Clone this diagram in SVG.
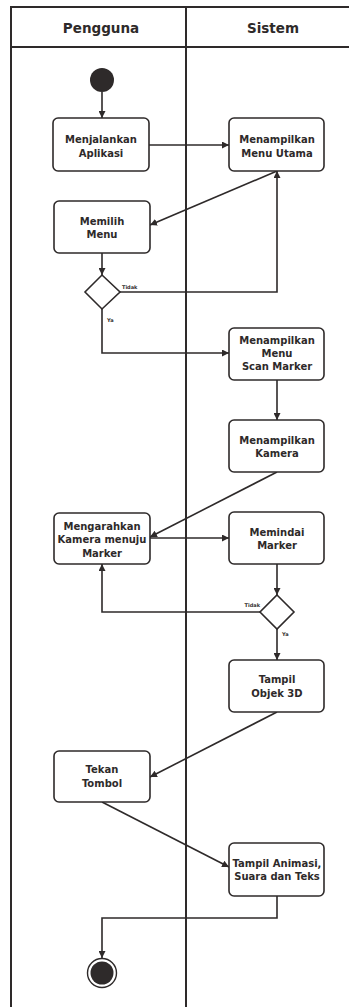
<svg xmlns="http://www.w3.org/2000/svg" width="349" height="1007" viewBox="0 0 349 1007">
<style>
.frame{stroke:#2e2a2a;stroke-width:2;fill:none}
.box{fill:#ffffff;stroke:#2e2a2a;stroke-width:1.6}
.dec{fill:#ffffff;stroke:#2e2a2a;stroke-width:1.6}
.t{font-family:"DejaVu Sans",sans-serif;font-weight:bold;font-size:10px;fill:#2e2a2a;text-anchor:middle}
.h{font-family:"DejaVu Sans",sans-serif;font-weight:bold;font-size:13.5px;fill:#2e2a2a;text-anchor:middle}
.s{font-family:"DejaVu Sans",sans-serif;font-weight:bold;font-size:5px;fill:#2e2a2a}
.c{fill:none;stroke:#2e2a2a;stroke-width:1.6}
</style>
<defs>
<marker id="ah" viewBox="0 0 10 10" refX="10" refY="5" markerWidth="7" markerHeight="7" markerUnits="userSpaceOnUse" orient="auto">
<path d="M0,0 L10,5 L0,10 z" fill="#2e2a2a"/>
</marker>
</defs>
<rect width="349" height="1007" fill="#ffffff"/>
<g id="swimlanes">
<path class="frame" d="M11,1007 V7 H349"/>
<path class="frame" d="M11,47 H349"/>
<path class="frame" d="M186,7 V1007"/>
<text class="h" x="101" y="33">Pengguna</text>
<text class="h" x="273" y="33">Sistem</text>
</g>
<g id="connectors">
<path class="c" d="M102,92 V118" marker-end="url(#ah)"/>
<path class="c" d="M149,145 H229" marker-end="url(#ah)"/>
<path class="c" d="M277,171 L150,225" marker-end="url(#ah)"/>
<path class="c" d="M102,253 V275" marker-end="url(#ah)"/>
<path class="c" d="M120,292 H277 V171" marker-end="url(#ah)"/>
<path class="c" d="M102,309 V353 H229" marker-end="url(#ah)"/>
<path class="c" d="M277,380 V420" marker-end="url(#ah)"/>
<path class="c" d="M277,472 L150,537" marker-end="url(#ah)"/>
<path class="c" d="M150,538 H229" marker-end="url(#ah)"/>
<path class="c" d="M277,564 V595" marker-end="url(#ah)"/>
<path class="c" d="M260,612 H102 V564" marker-end="url(#ah)"/>
<path class="c" d="M277,629 V660" marker-end="url(#ah)"/>
<path class="c" d="M277,712 L150,777" marker-end="url(#ah)"/>
<path class="c" d="M102,802 L229,867" marker-end="url(#ah)"/>
<path class="c" d="M277,896 V918 H102 V958" marker-end="url(#ah)"/>
<text class="s" x="122" y="289">Tidak</text>
<text class="s" x="107" y="322">Ya</text>
<text class="s" x="260" y="607" text-anchor="end">Tidak</text>
<text class="s" x="282" y="636">Ya</text>
</g>
<g id="start">
<circle cx="102" cy="80" r="12" fill="#2e2a2a"/>
</g>
<g id="menjalankan">
<rect class="box" x="53" y="118" width="96" height="53" rx="5"/>
<text class="t" x="101" y="143">Menjalankan</text>
<text class="t" x="101" y="157">Aplikasi</text>
</g>
<g id="menu-utama">
<rect class="box" x="229" y="118" width="95" height="53" rx="5"/>
<text class="t" x="277" y="143">Menampilkan</text>
<text class="t" x="277" y="157">Menu Utama</text>
</g>
<g id="memilih">
<rect class="box" x="54" y="201" width="96" height="52" rx="5"/>
<text class="t" x="102" y="225">Memilih</text>
<text class="t" x="102" y="238">Menu</text>
</g>
<g id="decision1">
<path class="dec" d="M102,275 L120,292 L102,309 L85,292 z"/>
</g>
<g id="scan-marker">
<rect class="box" x="229" y="328" width="95" height="52" rx="5"/>
<text class="t" x="277" y="344">Menampilkan</text>
<text class="t" x="277" y="357">Menu</text>
<text class="t" x="277" y="370">Scan Marker</text>
</g>
<g id="kamera">
<rect class="box" x="229" y="420" width="95" height="52" rx="5"/>
<text class="t" x="277" y="444">Menampilkan</text>
<text class="t" x="277" y="457">Kamera</text>
</g>
<g id="mengarahkan">
<rect class="box" x="54" y="513" width="96" height="51" rx="5"/>
<text class="t" x="102" y="530">Mengarahkan</text>
<text class="t" x="102" y="543">Kamera menuju</text>
<text class="t" x="102" y="557">Marker</text>
</g>
<g id="memindai">
<rect class="box" x="229" y="512" width="95" height="52" rx="5"/>
<text class="t" x="277" y="536">Memindai</text>
<text class="t" x="277" y="549">Marker</text>
</g>
<g id="decision2">
<path class="dec" d="M277,595 L294,612 L277,629 L260,612 z"/>
</g>
<g id="objek3d">
<rect class="box" x="229" y="660" width="95" height="52" rx="5"/>
<text class="t" x="277" y="683">Tampil</text>
<text class="t" x="277" y="697">Objek 3D</text>
</g>
<g id="tekan">
<rect class="box" x="54" y="751" width="96" height="51" rx="5"/>
<text class="t" x="102" y="773">Tekan</text>
<text class="t" x="102" y="787">Tombol</text>
</g>
<g id="animasi">
<rect class="box" x="229" y="843" width="95" height="53" rx="5"/>
<text class="t" x="277" y="867">Tampil Animasi,</text>
<text class="t" x="277" y="880">Suara dan Teks</text>
</g>
<g id="end">
<circle cx="102" cy="973" r="14.5" fill="#ffffff" stroke="#2e2a2a" stroke-width="1.4"/>
<circle cx="102" cy="973" r="11.5" fill="#2e2a2a"/>
</g>
</svg>
